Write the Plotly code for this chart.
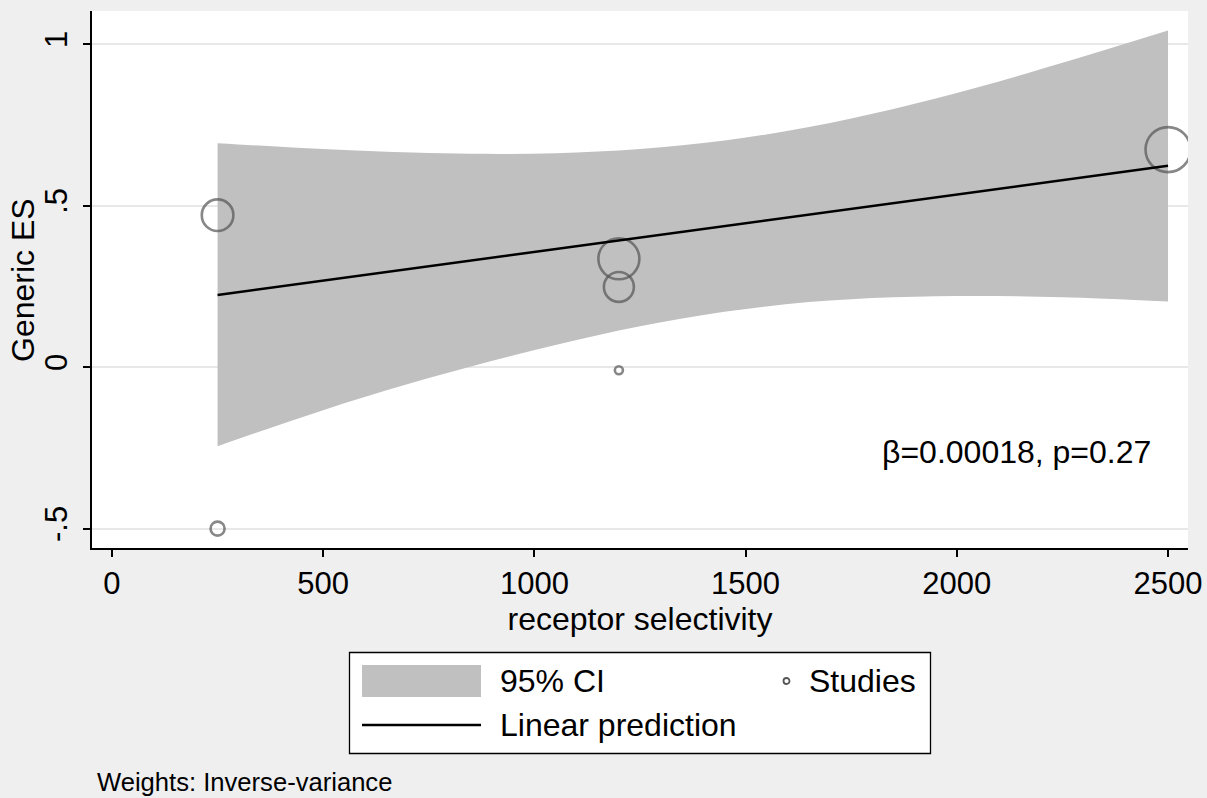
import plotly.graph_objects as go

# ---- data ----
study_x = [250, 1200, 1200, 1200, 250, 2500]
study_es = [0.47, 0.335, 0.248, -0.01, -0.5, 0.673]
study_weight = [49.3, 83.0, 44.4, 3.2, 9.7, 100.0]   # relative inverse-variance weights

ci_x = [250, 450, 650, 850, 1050, 1250, 1450, 1650, 1850, 2050, 2250, 2500]
ci_upper = [0.693, 0.678, 0.666, 0.660, 0.662, 0.675, 0.701, 0.743, 0.799, 0.866, 0.942, 1.042]
ci_lower = [-0.245, -0.155, -0.072, 0.002, 0.068, 0.126, 0.171, 0.201, 0.216, 0.220, 0.216, 0.203]

fit_x = [250, 2500]
fit_y = [0.223, 0.623]

x_ticks = [0, 500, 1000, 1500, 2000, 2500]
x_tick_labels = ["0", "500", "1000", "1500", "2000", "2500"]
y_ticks = [-0.5, 0, 0.5, 1]
y_tick_labels = ["-.5", "0", ".5", "1"]

stat_text = "β=0.00018, p=0.27"

FONT = "Liberation Sans, Arial, sans-serif"
W, H = 1207, 798
ML, MR, MT, MB = 92, 19, 11, 250
PW, PH = W - ML - MR, H - MT - MB

def px(x):
    return (x - ML) / PW

def py(y):
    return (H - MB - y) / PH

max_w = max(study_weight)
sizes = [45 * (w / max_w) ** 0.5 for w in study_weight]

fig = go.Figure()
fig.add_trace(go.Scatter(x=ci_x, y=ci_lower, mode="lines", line=dict(width=0, shape="spline"),
                         showlegend=False, hoverinfo="skip"))
fig.add_trace(go.Scatter(x=ci_x, y=ci_upper, mode="lines", line=dict(width=0, shape="spline"),
                         fill="tonexty", fillcolor="#c0c0c0", showlegend=False))
fig.add_trace(go.Scatter(x=study_x, y=study_es, mode="markers",
                         marker=dict(symbol="circle", size=sizes, color="rgba(0,0,0,0)",
                                     line=dict(color="#555555", width=2.6)),
                         showlegend=False))
fig.add_trace(go.Scatter(x=fit_x, y=fit_y, mode="lines",
                         line=dict(color="black", width=2.5), showlegend=False))

axis_common = dict(showline=True, linecolor="black", linewidth=1.5, ticks="outside",
                   ticklen=7, tickwidth=1.5, tickcolor="black", zeroline=False,
                   tickfont=dict(family=FONT, size=31, color="black"))

fig.update_xaxes(range=[-47.3, 2547.3], tickvals=x_ticks, ticktext=x_tick_labels,
                 showgrid=False,
                 title=dict(text="receptor selectivity", font=dict(family=FONT, size=32, color="black"),
                            standoff=3),
                 **axis_common)
fig.update_yaxes(range=[-0.560, 1.102], tickvals=y_ticks, ticktext=y_tick_labels,
                 tickangle=-90, showgrid=True, gridcolor="#e8e8e8", gridwidth=2,
                 ticklabelstandoff=4,
                 **axis_common)

shapes = [
    dict(type="rect", xref="paper", yref="paper", x0=px(349.5), x1=px(930.5),
         y0=py(753.5), y1=py(652.5), line=dict(color="black", width=1.3), fillcolor="white", layer="above"),
    dict(type="rect", xref="paper", yref="paper", x0=px(362), x1=px(481),
         y0=py(697), y1=py(665), line=dict(width=0), fillcolor="#c0c0c0", layer="above"),
    dict(type="line", xref="paper", yref="paper", x0=px(362), x1=px(481),
         y0=py(725), y1=py(725), line=dict(color="black", width=2.5), layer="above"),
    dict(type="circle", xref="paper", yref="paper", x0=px(783.5), x1=px(789.5),
         y0=py(684), y1=py(678), line=dict(color="#555555", width=1.8), fillcolor="rgba(0,0,0,0)",
         layer="above"),
]

def note(text, x, y, size, xanchor="left"):
    return dict(text=text, xref="paper", yref="paper", x=px(x), y=py(y), xanchor=xanchor,
                yanchor="middle", showarrow=False, font=dict(family=FONT, size=size, color="black"))

annotations = [
    dict(text=stat_text, xref="x", yref="y", x=2141, y=-0.263, xanchor="center", yanchor="middle",
         showarrow=False, font=dict(family=FONT, size=32, color="black")),
    dict(text="Generic ES", xref="paper", yref="paper", x=px(23), y=py(280), xanchor="center",
         yanchor="middle", textangle=-90, showarrow=False,
         font=dict(family=FONT, size=32, color="black")),
    note("95% CI", 498, 681, 32),
    note("Studies", 807, 681, 32),
    note("Linear prediction", 498, 725, 32),
    note("Weights: Inverse-variance", 95, 782, 25.6),
]

fig.update_layout(
    width=W, height=H, autosize=False,
    margin=dict(l=ML, r=MR, t=MT, b=MB, autoexpand=False),
    paper_bgcolor="#efefef", plot_bgcolor="white",
    font=dict(family=FONT, color="black"),
    showlegend=False, shapes=shapes, annotations=annotations,
)

fig.write_html("out.html")
